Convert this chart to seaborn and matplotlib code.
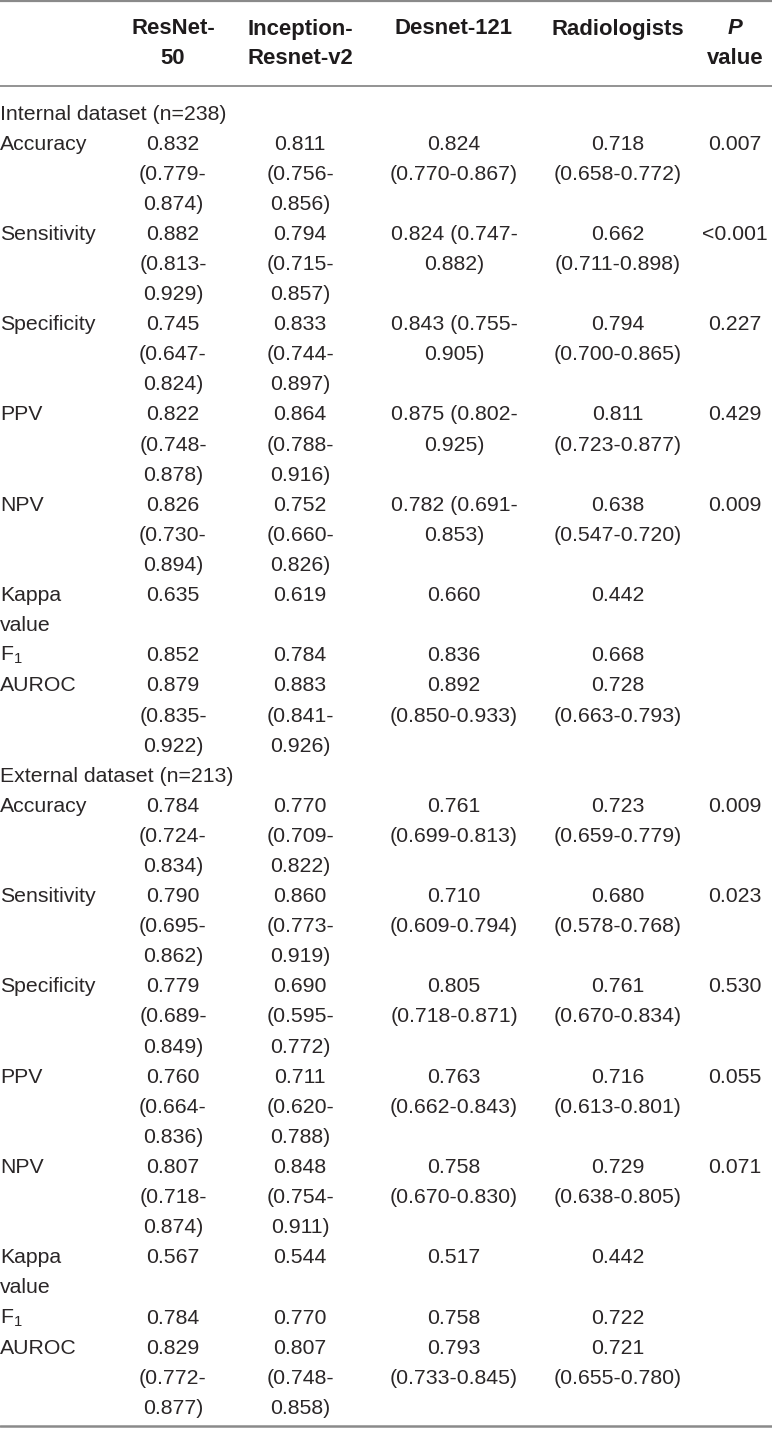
import matplotlib
matplotlib.use("Agg")
import matplotlib.pyplot as plt
import seaborn as sns

# ---------------- data ----------------
sections = ["Internal dataset (n=238)", "External dataset (n=213)"]
metric_labels = [["Accuracy"], ["Sensitivity"], ["Specificity"], ["PPV"], ["NPV"],
                 ["Kappa", "value"], ["F$_1$"], ["AUROC"]]
model_headers = [["ResNet-", "50"], ["Inception-", "Resnet-v2"], ["Desnet-121"],
                 ["Radiologists"], ["P", "value"]]

# internal dataset
int_resnet = ["0.832", "0.882", "0.745", "0.822", "0.826", "0.635", "0.852", "0.879"]
int_resnet_ci = [("0.779", "0.874"), ("0.813", "0.929"), ("0.647", "0.824"), ("0.748", "0.878"),
                 ("0.730", "0.894"), None, None, ("0.835", "0.922")]
int_incep = ["0.811", "0.794", "0.833", "0.864", "0.752", "0.619", "0.784", "0.883"]
int_incep_ci = [("0.756", "0.856"), ("0.715", "0.857"), ("0.744", "0.897"), ("0.788", "0.916"),
                ("0.660", "0.826"), None, None, ("0.841", "0.926")]
int_desnet = ["0.824", "0.824", "0.843", "0.875", "0.782", "0.660", "0.836", "0.892"]
int_desnet_ci = [("0.770", "0.867"), ("0.747", "0.882"), ("0.755", "0.905"), ("0.802", "0.925"),
                 ("0.691", "0.853"), None, None, ("0.850", "0.933")]
int_radio = ["0.718", "0.662", "0.794", "0.811", "0.638", "0.442", "0.668", "0.728"]
int_radio_ci = [("0.658", "0.772"), ("0.711", "0.898"), ("0.700", "0.865"), ("0.723", "0.877"),
                ("0.547", "0.720"), None, None, ("0.663", "0.793")]
int_p = ["0.007", "<0.001", "0.227", "0.429", "0.009", "", "", ""]

# external dataset
ext_resnet = ["0.784", "0.790", "0.779", "0.760", "0.807", "0.567", "0.784", "0.829"]
ext_resnet_ci = [("0.724", "0.834"), ("0.695", "0.862"), ("0.689", "0.849"), ("0.664", "0.836"),
                 ("0.718", "0.874"), None, None, ("0.772", "0.877")]
ext_incep = ["0.770", "0.860", "0.690", "0.711", "0.848", "0.544", "0.770", "0.807"]
ext_incep_ci = [("0.709", "0.822"), ("0.773", "0.919"), ("0.595", "0.772"), ("0.620", "0.788"),
                ("0.754", "0.911"), None, None, ("0.748", "0.858")]
ext_desnet = ["0.761", "0.710", "0.805", "0.763", "0.758", "0.517", "0.758", "0.793"]
ext_desnet_ci = [("0.699", "0.813"), ("0.609", "0.794"), ("0.718", "0.871"), ("0.662", "0.843"),
                 ("0.670", "0.830"), None, None, ("0.733", "0.845")]
ext_radio = ["0.723", "0.680", "0.761", "0.716", "0.729", "0.442", "0.722", "0.721"]
ext_radio_ci = [("0.659", "0.779"), ("0.578", "0.768"), ("0.670", "0.834"), ("0.613", "0.801"),
                ("0.638", "0.805"), None, None, ("0.655", "0.780")]
ext_p = ["0.009", "0.023", "0.530", "0.055", "0.071", "", "", ""]

# wrapping of cells as in the original layout
int_desnet_wrap = ["block", "inline", "inline", "inline", "inline", "block", "block", "block"]
ext_desnet_wrap = ["block"] * 8

section_data = [
    (int_resnet, int_resnet_ci, int_incep, int_incep_ci, int_desnet, int_desnet_ci,
     int_desnet_wrap, int_radio, int_radio_ci, int_p),
    (ext_resnet, ext_resnet_ci, ext_incep, ext_incep_ci, ext_desnet, ext_desnet_ci,
     ext_desnet_wrap, ext_radio, ext_radio_ci, ext_p),
]

# ---------------- style ----------------
sns.set_theme(style="white")
plt.rcParams["font.family"] = ["Liberation Sans", "DejaVu Sans"]
plt.rcParams["mathtext.default"] = "regular"

TXT = "#2a2627"
RULE = "#8a8a8a"
FS = 15.3
FS_H = 15.9
W, H = 772, 1432

fig = plt.figure(figsize=(W / 100, H / 100), dpi=100)
ax = fig.add_axes([0, 0, 1, 1])
ax.set_xlim(0, W)
ax.set_ylim(H, 0)
ax.axis("off")

col_x = [173, 300, 454, 618, 735]
label_x = 0
y0 = 114
pitch = 30.1
hdr_y = [29, 59]

# header
for cx, lines in zip(col_x, model_headers):
    for i, t in enumerate(lines):
        style = "italic" if t == "P" else "normal"
        ax.text(cx, hdr_y[i], t, ha="center", va="center", fontsize=FS_H,
                fontweight="bold", fontstyle=style, color="#1e1b1c")

ax.axhline(1, color=RULE, lw=1.6)
ax.axhline(85.5, color=RULE, lw=1.3)
ax.axhline(1426, color=RULE, lw=1.8)


def split3(v, ci):
    if ci is None:
        return [v]
    return [v, "(" + ci[0] + "-", ci[1] + ")"]


def block2(v, ci):
    if ci is None:
        return [v]
    return [v, "(" + ci[0] + "-" + ci[1] + ")"]


def inline2(v, ci):
    return [v + " (" + ci[0] + "-", ci[1] + ")"]


line = 0
for sec, data in zip(sections, section_data):
    (rn, rn_ci, ic, ic_ci, dn, dn_ci, dn_wrap, rd, rd_ci, pv) = data
    ax.text(label_x, y0 + line * pitch, sec, ha="left", va="center",
            fontsize=FS, color=TXT)
    line += 1
    for k, lab in enumerate(metric_labels):
        cells = [split3(rn[k], rn_ci[k]), split3(ic[k], ic_ci[k]),
                 inline2(dn[k], dn_ci[k]) if dn_wrap[k] == "inline" else block2(dn[k], dn_ci[k]),
                 block2(rd[k], rd_ci[k]), [pv[k]]]
        for i, t in enumerate(lab):
            ax.text(label_x, y0 + (line + i) * pitch, t, ha="left", va="center",
                    fontsize=FS, color=TXT)
        for cx, cl in zip(col_x, cells):
            for i, t in enumerate(cl):
                ax.text(cx, y0 + (line + i) * pitch, t, ha="center", va="center",
                        fontsize=FS, color=TXT)
        line += max([len(lab)] + [len(c) for c in cells])

fig.savefig("out.png", dpi=100, facecolor="white")
